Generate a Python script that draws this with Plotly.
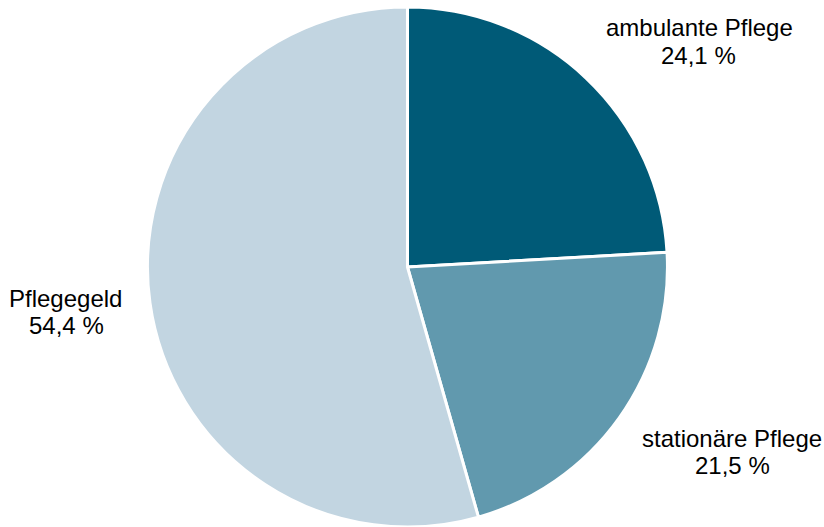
import plotly.graph_objects as go

categories = ["ambulante Pflege", "stationäre Pflege", "Pflegegeld"]
shares = [24.1, 21.5, 54.4]
colors = ["#005A77", "#6199AE", "#C2D5E1"]

W, H = 824, 527

fig = go.Figure(go.Pie(
    labels=categories,
    values=shares,
    sort=False,
    direction="clockwise",
    rotation=0,
    marker=dict(colors=colors, line=dict(color="white", width=3)),
    textinfo="none",
    hoverinfo="label+percent",
    showlegend=False,
    domain=dict(x=[0.1645, 0.8245], y=[0.0, 0.9867]),
))

# label anchor positions (pixel centres of the two text lines)
label_pos = {
    "ambulante Pflege": (699, 28, 698, 55),
    "stationäre Pflege": (732, 438, 732, 465),
    "Pflegegeld": (65, 298, 66, 325),
}

def fmt(v):
    return f"{v:.1f}".replace(".", ",") + " %"

font = dict(family="Liberation Sans, Arial, sans-serif", size=24, color="#000000")
for cat, val in zip(categories, shares):
    x1, y1, x2, y2 = label_pos[cat]
    fig.add_annotation(x=x1 / W, y=1 - y1 / H, xref="paper", yref="paper",
                       text=cat, showarrow=False, xanchor="center", yanchor="middle", font=font)
    fig.add_annotation(x=x2 / W, y=1 - y2 / H, xref="paper", yref="paper",
                       text=fmt(val), showarrow=False, xanchor="center", yanchor="middle", font=font)

fig.update_layout(
    width=W, height=H,
    margin=dict(l=0, r=0, t=0, b=0),
    paper_bgcolor="white",
    plot_bgcolor="white",
)

fig.write_html("out.html",
               config={"displayModeBar": False},
               post_script="document.body.style.margin='0';document.body.style.padding='0';")
